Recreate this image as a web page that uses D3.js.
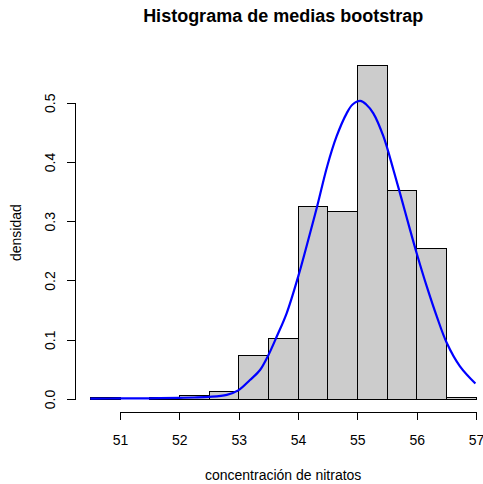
<!DOCTYPE html>
<html>
<head>
<meta charset="utf-8">
<script src="https://cdn.jsdelivr.net/npm/d3@7"></script>
<style>
  html, body { margin: 0; padding: 0; background: #ffffff; }
  svg { display: block; font-family: "Liberation Sans", Arial, sans-serif; }
</style>
</head>
<body>
<svg id="chart" width="483" height="484"></svg>
<script>
// ---- data ----
const binStarts = [50.5, 51.0, 51.5, 52.0, 52.5, 53.0, 53.5, 54.0, 54.5, 55.0, 55.5, 56.0, 56.5];
const binWidth = 0.5;
const densities = [0.002, 0.000, 0.002, 0.006, 0.012, 0.074, 0.102, 0.324, 0.316, 0.562, 0.352, 0.254, 0.002];

const curveX = [50.5, 51.0, 51.5, 52.0, 52.25, 52.5, 52.8, 53.0, 53.19, 53.36, 53.5, 53.64, 53.81, 54.01, 54.15, 54.32, 54.49, 54.65, 54.82, 54.92, 55.05, 55.15, 55.27, 55.44, 55.61, 55.75, 55.89, 56.0, 56.17, 56.34, 56.51, 56.73, 56.99];
const curveY = [0.0005, 0.001, 0.0012, 0.002, 0.0025, 0.0035, 0.007, 0.015, 0.032, 0.049, 0.074, 0.105, 0.145, 0.209, 0.260, 0.324, 0.392, 0.443, 0.482, 0.497, 0.503, 0.497, 0.482, 0.443, 0.386, 0.336, 0.285, 0.246, 0.190, 0.139, 0.094, 0.055, 0.026];

const xTicks = [51, 52, 53, 54, 55, 56, 57];
const yTicks = [0.0, 0.1, 0.2, 0.3, 0.4, 0.5];

const titleText = "Histograma de medias bootstrap";
const xLabel = "concentración de nitratos";
const yLabel = "densidad";

// ---- scales ----
const x = d3.scaleLinear().domain([51, 57]).range([120, 476]);
const y = d3.scaleLinear().domain([0, 0.5]).range([399, 102.7]);

const svg = d3.select("#chart");

// bars
svg.append("g")
  .selectAll("rect")
  .data(binStarts.map((s, i) => ({ s, d: densities[i] })))
  .join("rect")
  .attr("x", d => x(d.s))
  .attr("width", d => x(d.s + binWidth) - x(d.s))
  .attr("y", d => y(d.d))
  .attr("height", d => y(0) - y(d.d))
  .attr("fill", "#cccccc")
  .attr("stroke", "#000000")
  .attr("stroke-width", 1)
  .attr("shape-rendering", "crispEdges");

// density curve
const line = d3.line()
  .x(d => x(d[0]))
  .y(d => y(d[1]))
  .curve(d3.curveCatmullRom.alpha(0.5));
svg.append("path")
  .datum(curveX.map((v, i) => [v, curveY[i]]))
  .attr("d", line)
  .attr("fill", "none")
  .attr("stroke", "#0000ff")
  .attr("stroke-width", 2.2);

// x axis
const xAxis = d3.axisBottom(x)
  .tickValues(xTicks)
  .tickFormat(d3.format("d"))
  .tickSize(8)
  .tickSizeOuter(0)
  .tickPadding(15);
const gx = svg.append("g")
  .attr("transform", "translate(0,412)")
  .call(xAxis);
gx.selectAll("path, line").attr("stroke", "#000").attr("shape-rendering", "crispEdges");
gx.selectAll("text")
  .attr("fill", "#000")
  .attr("font-size", 14)
  .attr("font-family", "Liberation Sans, Arial, sans-serif");

// y axis
const yAxis = d3.axisLeft(y)
  .tickValues(yTicks)
  .tickFormat(d3.format(".1f"))
  .tickSize(8)
  .tickSizeOuter(0);
const gy = svg.append("g")
  .attr("transform", "translate(75,0)")
  .call(yAxis);
gy.selectAll("path, line").attr("stroke", "#000").attr("shape-rendering", "crispEdges");
gy.selectAll("text")
  .attr("fill", "#000")
  .attr("font-size", 14)
  .attr("font-family", "Liberation Sans, Arial, sans-serif")
  .attr("x", null)
  .attr("dy", null)
  .attr("text-anchor", "middle")
  .attr("transform", "translate(-20,0) rotate(-90)");

// title
svg.append("text")
  .attr("x", (x(50.24) + x(57.26)) / 2)
  .attr("y", 22)
  .attr("text-anchor", "middle")
  .attr("font-size", 18)
  .attr("font-weight", "bold")
  .text(titleText);

// x label
svg.append("text")
  .attr("x", (x(50.24) + x(57.26)) / 2)
  .attr("y", 480)
  .attr("text-anchor", "middle")
  .attr("font-size", 14)
  .text(xLabel);

// y label
svg.append("text")
  .attr("transform", `translate(20.5,${(y(-0.0225) + y(0.584)) / 2}) rotate(-90)`)
  .attr("text-anchor", "middle")
  .attr("font-size", 14)
  .text(yLabel);
</script>
</body>
</html>
